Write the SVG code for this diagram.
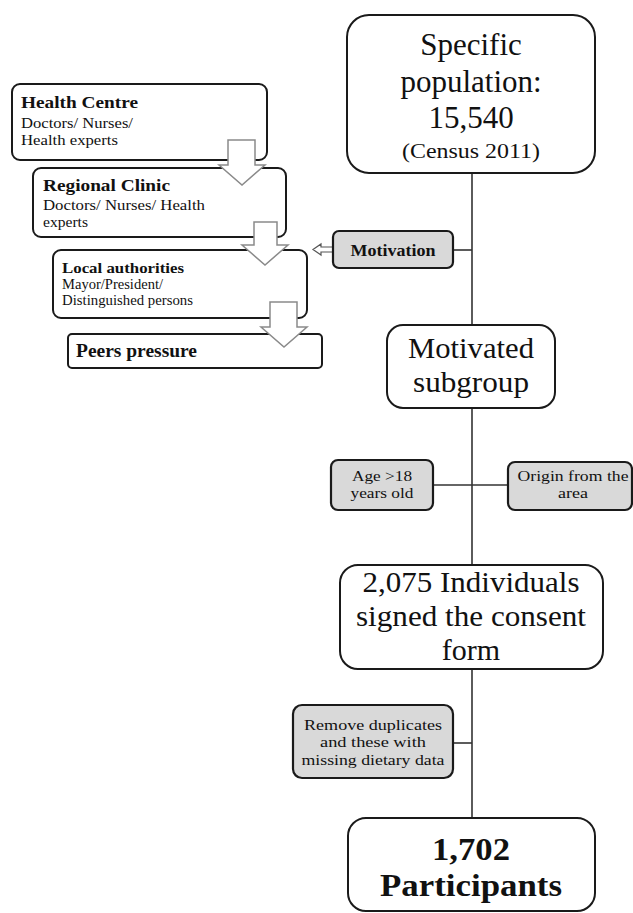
<svg xmlns="http://www.w3.org/2000/svg" width="633" height="913" viewBox="0 0 633 913" font-family="'Liberation Serif', 'Times New Roman', Times, serif">
<style>
.box{fill:#fff;stroke:#1a1a1a;stroke-width:2}
.gbox{fill:#d9d9d9;stroke:#1a1a1a;stroke-width:2.2}
text{font-family:'Liberation Serif','Times New Roman',Times,serif;fill:#111}
.b{font-weight:bold}
.c{text-anchor:middle}
.line{stroke:#333;stroke-width:1.6;fill:none}
.barrow{fill:#fff;stroke:#8a8a8a;stroke-width:1.5}
</style>
<rect width="633" height="913" fill="#fff"/>
<g id="connectors">
<line class="line" x1="472" y1="173" x2="472" y2="325"/>
<line class="line" x1="472" y1="408" x2="472" y2="565"/>
<line class="line" x1="472" y1="669" x2="472" y2="818"/>
<line class="line" x1="453" y1="250" x2="472" y2="250"/>
<line class="line" x1="433" y1="485" x2="508" y2="485"/>
<line class="line" x1="453" y1="743" x2="472" y2="743"/>
<path d="M333,247 H321 V244 L313,249.5 L321,255 V252 H333 Z" fill="#fff" stroke="#555" stroke-width="1.2"/>
</g>
<g id="population">
<rect class="box" x="347" y="15" width="248" height="158" rx="22"/>
<text class="c" x="471" y="55" font-size="31">Specific</text>
<text class="c" x="471" y="92" font-size="31">population:</text>
<text class="c" x="471" y="128" font-size="31">15,540</text>
<text class="c" x="471" y="158" font-size="20" textLength="138" lengthAdjust="spacingAndGlyphs">(Census  2011)</text>
</g>
<g id="health-centre">
<rect class="box" x="12" y="84" width="255" height="76" rx="8"/>
<text class="b" x="21" y="108" font-size="17" textLength="117" lengthAdjust="spacingAndGlyphs">Health Centre</text>
<text x="21" y="128" font-size="15" textLength="112" lengthAdjust="spacingAndGlyphs">Doctors/ Nurses/</text>
<text x="21" y="145" font-size="15" textLength="97" lengthAdjust="spacingAndGlyphs">Health experts</text>
</g>
<g id="regional-clinic">
<rect class="box" x="33" y="168" width="253" height="69" rx="8"/>
<text class="b" x="43" y="191" font-size="17" textLength="127" lengthAdjust="spacingAndGlyphs">Regional Clinic</text>
<text x="43" y="210" font-size="15" textLength="162" lengthAdjust="spacingAndGlyphs">Doctors/ Nurses/ Health</text>
<text x="43" y="227" font-size="15" textLength="45" lengthAdjust="spacingAndGlyphs">experts</text>
</g>
<g id="local-authorities">
<rect class="box" x="53" y="250" width="254" height="68" rx="8"/>
<text class="b" x="62" y="273" font-size="15" textLength="122" lengthAdjust="spacingAndGlyphs">Local authorities</text>
<text x="62" y="289" font-size="14" textLength="101" lengthAdjust="spacingAndGlyphs">Mayor/President/</text>
<text x="62" y="305" font-size="14" textLength="131" lengthAdjust="spacingAndGlyphs">Distinguished persons</text>
</g>
<g id="peers-pressure">
<rect class="box" x="68" y="334" width="254" height="34" rx="4"/>
<text class="b" x="76" y="357" font-size="18" textLength="121" lengthAdjust="spacingAndGlyphs">Peers pressure</text>
</g>
<g id="block-arrows">
<path class="barrow" d="M228,140 H255 V165 H265 L242,185 L219,165 H228 Z"/>
<path class="barrow" d="M254,222 H277 V245 H288 L265,265 L242,245 H254 Z"/>
<path class="barrow" d="M270,302 H297 V327 H307 L284,347 L261,327 H270 Z"/>
</g>
<g id="motivation">
<rect class="gbox" x="333" y="231" width="120" height="37" rx="6"/>
<text class="b c" x="393" y="256" font-size="17" textLength="85" lengthAdjust="spacingAndGlyphs">Motivation</text>
</g>
<g id="motivated-subgroup">
<rect class="box" x="387" y="325" width="168" height="83" rx="16"/>
<text class="c" x="471" y="358" font-size="30" textLength="126" lengthAdjust="spacingAndGlyphs">Motivated</text>
<text class="c" x="471" y="392" font-size="30" textLength="116" lengthAdjust="spacingAndGlyphs">subgroup</text>
</g>
<g id="age">
<rect class="gbox" x="331" y="460" width="102" height="50" rx="7"/>
<text class="c" x="382" y="481" font-size="15" textLength="60" lengthAdjust="spacingAndGlyphs">Age &gt;18</text>
<text class="c" x="382" y="498" font-size="15" textLength="63" lengthAdjust="spacingAndGlyphs">years old</text>
</g>
<g id="origin">
<rect class="gbox" x="508" y="462" width="124" height="48" rx="7"/>
<text class="c" x="573" y="481" font-size="15" textLength="111" lengthAdjust="spacingAndGlyphs">Origin from the</text>
<text class="c" x="573" y="498" font-size="15" textLength="30" lengthAdjust="spacingAndGlyphs">area</text>
</g>
<g id="consent">
<rect class="box" x="340" y="565" width="263" height="104" rx="18"/>
<text class="c" x="471" y="592" font-size="30" textLength="217" lengthAdjust="spacingAndGlyphs">2,075 Individuals</text>
<text class="c" x="471" y="626" font-size="30" textLength="230" lengthAdjust="spacingAndGlyphs">signed the consent</text>
<text class="c" x="471" y="660" font-size="30">form</text>
</g>
<g id="remove">
<rect class="gbox" x="293" y="705" width="160" height="73" rx="9"/>
<text class="c" x="373" y="730" font-size="15" textLength="138" lengthAdjust="spacingAndGlyphs">Remove duplicates</text>
<text class="c" x="373" y="747" font-size="15" textLength="106" lengthAdjust="spacingAndGlyphs">and these with</text>
<text class="c" x="373" y="765" font-size="15" textLength="143" lengthAdjust="spacingAndGlyphs">missing dietary data</text>
</g>
<g id="participants">
<rect class="box" x="348" y="818" width="247" height="93" rx="18"/>
<text class="b c" x="471" y="860" font-size="32" textLength="78" lengthAdjust="spacingAndGlyphs">1,702</text>
<text class="b c" x="471" y="896" font-size="32" textLength="182" lengthAdjust="spacingAndGlyphs">Participants</text>
</g>
</svg>
